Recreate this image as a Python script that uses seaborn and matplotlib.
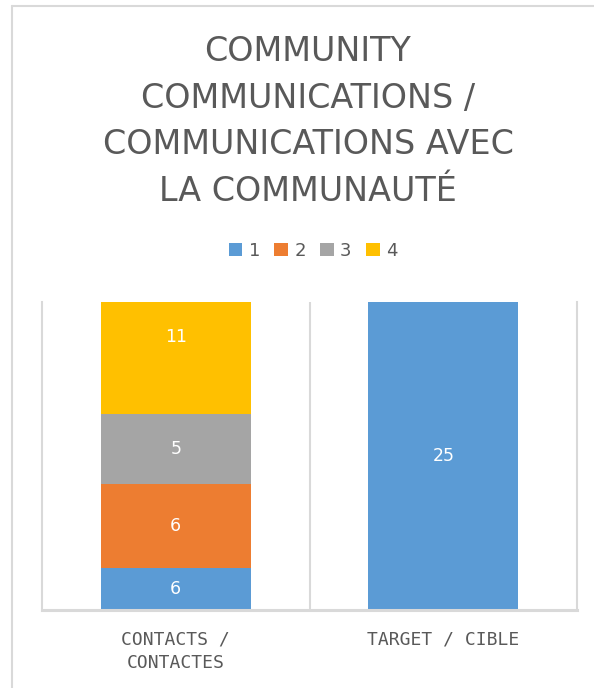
import matplotlib
matplotlib.use("Agg")
import matplotlib.pyplot as plt
import seaborn as sns
import numpy as np
import pandas as pd
from matplotlib.patches import Patch
from matplotlib.lines import Line2D

# ---- data ----
categories = ["CONTACTS /\nCONTACTES", "TARGET / CIBLE"]
series_names = ["1", "2", "3", "4"]
s1 = [6, 25]
s2 = [6, 0]
s3 = [5, 0]
s4 = [11, 0]
colors = ["#5B9BD5", "#ED7D31", "#A5A5A5", "#FFC000"]
title = "COMMUNITY\nCOMMUNICATIONS /\nCOMMUNICATIONS AVEC\nLA COMMUNAUTÉ"
y_min, y_max = 3, 25

sns.set_theme(style="white")
plt.rcParams["font.family"] = ["DejaVu Sans"]
TXT = "#595959"
GRID = "#D9D9D9"

W, H = 594, 688
fig = plt.figure(figsize=(W / 100, H / 100), dpi=100)
ax = fig.add_axes([42 / W, 1 - 610 / H, 535 / W, 308 / H])

series = [s1, s2, s3, s4]
cum = np.cumsum(np.array(series), axis=0)
# draw layered cumulative bars from top series down
for i in range(len(series) - 1, -1, -1):
    df = pd.DataFrame({"cat": categories, "val": cum[i]})
    sns.barplot(data=df, x="cat", y="val", color=colors[i], width=0.56,
                linewidth=0, saturation=1, ax=ax, order=categories)

ax.set_ylim(y_min, y_max)
ax.set_xlim(-0.5, 1.5)
ax.set_xlabel("")
ax.set_ylabel("")
ax.set_yticks([])
ax.tick_params(axis="x", length=0, pad=14.5)
ax.set_xticks(range(len(categories)))
ax.set_xticklabels(categories, color=TXT, fontsize=13, linespacing=1.45, va="top",
                   family="DejaVu Sans Mono")
ax.spines["top"].set_visible(False)
for sp in ["left", "right", "bottom"]:
    ax.spines[sp].set_visible(True)
    ax.spines[sp].set_color(GRID)
    ax.spines[sp].set_linewidth(1.5)
ax.spines["bottom"].set_linewidth(2.2)
ax.axvline(0.5, color=GRID, lw=1.5, zorder=0)

# value labels, centered between the visible bottom and the top of each segment
for j in range(len(categories)):
    base = 0
    for i, s in enumerate(series):
        v = s[j]
        if v > 0:
            lo, hi = base, base + v
            if hi > y_min and lo < y_max:
                c = (max(lo, y_min) + hi) / 2
                ax.text(j, c, str(v), ha="center", va="center", color="white", fontsize=12.5)
        base += v

# title
fig.text(308 / W, 1 - 35 / H, title, ha="center", va="top", fontsize=24, color=TXT,
         linespacing=1.52)

# legend
handles = [Patch(facecolor=c, edgecolor="none", label=n) for c, n in zip(colors, series_names)]
fig.legend(handles=handles, loc="center", bbox_to_anchor=(313 / W, 1 - 251 / H), ncol=4,
           frameon=False, fontsize=13, labelcolor=TXT, handlelength=0.75, handleheight=0.75,
           handletextpad=0.35, columnspacing=0.8)

# outer chart frame (left and top edges)
fig.add_artist(Line2D([12 / W, 12 / W], [0, 1 - 6 / H], color=GRID, lw=1.5))
fig.add_artist(Line2D([12 / W, 1], [1 - 6 / H, 1 - 6 / H], color=GRID, lw=1.5))

fig.savefig("out.png", dpi=100, facecolor="white")
